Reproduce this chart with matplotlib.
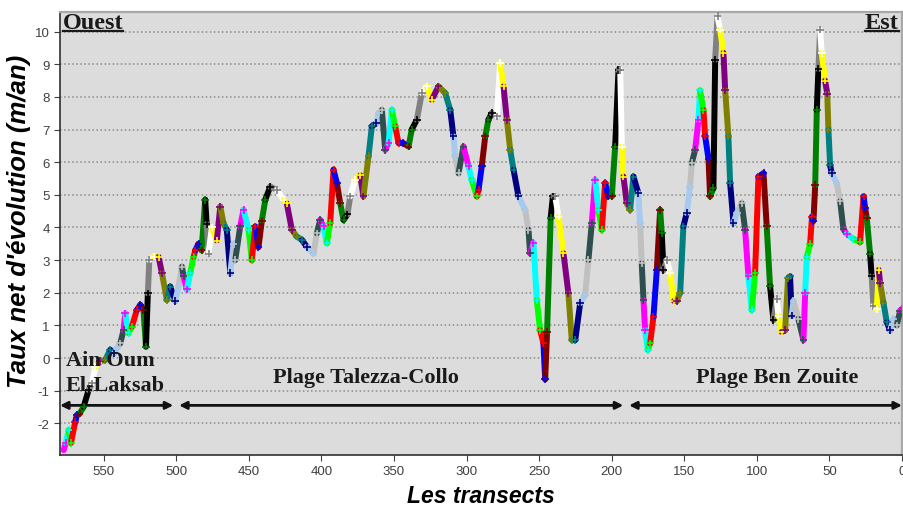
import numpy as np
import matplotlib
matplotlib.use('Agg')
import matplotlib.pyplot as plt
from matplotlib.collections import LineCollection

plt.rcParams['axes.unicode_minus'] = False

# transect number (west -> east) and net shoreline movement rate (m/an)
transects = [
    577.5, 576.0, 574.1, 572.5, 569.5, 568.4, 566.5, 563.8, 560.3, 558.0,
    555.7, 553.5, 552.3, 548.9, 545.4, 543.0, 540.8, 538.5, 536.2, 535.1,
    532.8, 530.5, 527.1, 524.7, 522.5, 520.8, 519.5, 518.5, 515.6, 512.1,
    509.8, 506.4, 504.1, 500.6, 498.3, 496.0, 494.9, 492.6, 490.3, 488.0,
    486.8, 484.6, 482.5, 480.0, 479.0, 477.7, 475.4, 472.0, 469.6, 467.4,
    465.1, 462.7, 460.5, 459.3, 455.9, 453.6, 450.1, 447.9, 445.5, 443.3,
    441.0, 438.6, 435.2, 430.6, 426.0, 423.8, 420.3, 416.9, 413.4, 410.0,
    405.4, 403.1, 400.8, 398.5, 396.2, 393.9, 391.6, 389.3, 387.0, 384.7,
    382.0, 380.1, 376.7, 373.2, 371.0, 367.5, 365.2, 362.0, 360.6, 358.3,
    356.0, 353.7, 351.4, 349.1, 346.8, 343.4, 339.9, 337.7, 334.2, 330.8,
    327.3, 323.9, 319.3, 314.7, 311.2, 309.0, 307.8, 305.5, 302.1, 298.6,
    296.4, 292.9, 291.7, 289.5, 287.1, 284.9, 282.6, 279.1, 276.8, 274.5,
    272.2, 269.9, 267.6, 264.2, 259.6, 257.3, 256.2, 253.9, 251.6, 249.3,
    247.0, 245.8, 244.5, 242.0, 240.5, 238.9, 236.6, 233.2, 229.8, 227.5,
    225.1, 221.7, 218.3, 216.0, 213.7, 211.4, 209.1, 206.8, 204.5, 202.2,
    199.9, 197.6, 195.3, 194.1, 193.0, 191.9, 189.6, 187.3, 185.0, 181.6,
    180.4, 179.3, 178.1, 177.0, 175.1, 173.5, 171.2, 168.9, 166.6, 165.5,
    164.3, 162.0, 159.7, 157.4, 155.2, 152.8, 150.6, 148.3, 146.0, 144.8,
    142.5, 140.2, 139.1, 136.8, 135.6, 133.3, 132.2, 129.9, 128.7, 127.1,
    125.3, 123.0, 121.8, 119.6, 118.4, 116.1, 113.8, 110.4, 108.1, 105.8,
    103.5, 101.2, 98.9, 95.4, 93.2, 90.9, 88.6, 86.3, 85.1, 82.9,
    80.5, 78.5, 77.1, 76.0, 74.8, 71.4, 67.9, 66.7, 65.6, 63.3,
    62.0, 61.0, 59.8, 58.7, 57.6, 56.4, 55.3, 53.0, 51.5, 50.7,
    49.5, 48.4, 45.0, 42.6, 40.4, 38.1, 33.5, 28.9, 26.5, 25.4,
    24.3, 22.0, 20.9, 19.7, 17.4, 16.0, 15.1, 12.8, 10.5, 8.2,
    5.9, 3.6, 1.3, 0.0,
]
taux = [
    -2.82, -2.60, -2.21, -2.60, -1.95, -1.75, -1.70, -1.50, -0.98, -0.78,
    -0.27, -0.15, -0.10, -0.06, 0.25, 0.14, 0.30, 0.45, 0.86, 1.37,
    0.76, 0.96, 1.47, 1.63, 1.47, 0.35, 1.98, 3.00, 3.11, 3.10,
    2.60, 1.78, 2.19, 1.75, 2.20, 2.80, 2.50, 2.10, 2.60, 3.10,
    3.30, 3.50, 3.30, 4.85, 4.10, 3.20, 4.00, 3.60, 4.64, 4.13,
    3.93, 2.60, 3.50, 3.00, 4.03, 4.54, 3.93, 3.00, 4.03, 3.40,
    4.20, 4.85, 5.25, 5.15, 4.85, 4.74, 3.93, 3.72, 3.62, 3.41,
    3.20, 3.82, 4.23, 4.03, 3.52, 4.13, 5.77, 5.36, 4.74, 4.23,
    4.40, 4.95, 5.46, 5.60, 4.95, 6.18, 7.10, 7.20, 7.50, 7.60,
    6.38, 6.58, 7.60, 7.10, 6.58, 6.58, 6.48, 7.00, 7.30, 8.12,
    8.32, 7.91, 8.32, 8.12, 7.60, 6.79, 6.18, 5.66, 6.48, 5.87,
    5.46, 4.95, 5.15, 5.87, 6.79, 7.30, 7.50, 7.40, 9.04, 8.32,
    7.30, 6.38, 5.77, 4.95, 4.54, 3.93, 3.21, 3.52, 1.78, 0.86,
    0.45, -0.65, 0.80, 4.30, 4.95, 4.95, 4.33, 3.21, 1.98, 0.55,
    0.55, 1.68, 1.93, 3.00, 4.13, 5.46, 4.54, 3.93, 5.36, 4.95,
    4.95, 6.48, 8.83, 8.83, 6.48, 5.56, 4.74, 4.54, 5.56, 5.05,
    4.13, 2.90, 1.78, 0.86, 0.25, 0.45, 1.27, 2.70, 4.54, 3.82,
    2.70, 3.00, 2.60, 1.75, 1.75, 2.00, 4.03, 4.44, 5.25, 5.97,
    6.38, 7.30, 8.20, 7.60, 6.79, 6.10, 4.95, 5.20, 9.14, 10.47,
    10.06, 9.35, 8.20, 6.79, 5.36, 4.13, 4.44, 4.74, 3.93, 2.50,
    1.47, 2.60, 5.56, 5.66, 4.03, 2.20, 1.17, 1.80, 1.30, 0.80,
    0.85, 2.45, 2.50, 1.30, 1.75, 1.20, 0.55, 2.00, 3.10, 3.50,
    4.33, 4.20, 5.30, 7.60, 8.85, 10.06, 9.35, 8.50, 8.10, 7.00,
    5.90, 5.66, 5.36, 4.80, 3.95, 3.80, 3.65, 3.55, 4.95, 4.60,
    4.30, 3.20, 2.50, 1.60, 1.50, 2.70, 2.30, 1.70, 1.10, 0.85,
    1.20, 1.00, 1.45, 1.50,
]

# coastal units along the transect axis: (label, west end, east end)
sections = ['Ain Oum\nEl-Laksab', 'Plage Talezza-Collo', 'Plage Ben Zouite']
section_start = [580, 498, 188]
section_end = [502, 192, 0]

yticks = list(range(-2, 11))
xticks = list(range(0, 551, 50))

palette = ['#ff00ff', '#00ffff', '#00ff00', '#ff0000', '#0000ff', '#800000',
           '#008000', '#000000', '#808080', '#ffffff', '#ffff00', '#800080',
           '#808000', '#008080', '#000080', '#a6caf0', '#c0c0c0', '#2f4f4f']

fig = plt.figure(figsize=(9.04, 5.10), dpi=100)
ax = fig.add_axes([0.0664, 0.1059, 0.9314, 0.8686])
ax.set_facecolor('#dcdcdc')

x = np.array(transects)
y = np.array(taux)
segs = np.stack([np.column_stack([x[:-1], y[:-1]]),
                 np.column_stack([x[1:], y[1:]])], axis=1)
cols = [palette[i % len(palette)] for i in range(len(segs))]
lc = LineCollection(segs, colors=cols, linewidths=4.3, capstyle='round', zorder=3)
ax.add_collection(lc)
ax.scatter(x[1:], y[1:], marker='+', s=30, c=cols, linewidths=1.2, zorder=4)

ax.set_xlim(580, 0)
ax.set_ylim(-2.97, 10.6)
ax.set_yticks(yticks)
ax.set_xticks(xticks)
ax.yaxis.grid(True, linestyle=':', color='#8c8c8c', linewidth=1.1)
ax.set_axisbelow(True)
ax.tick_params(labelsize=9.5, labelcolor='#404040', colors='#404040', length=4)
for lbl in ax.get_xticklabels() + ax.get_yticklabels():
    lbl.set_family('Liberation Sans')

for side in ['left', 'bottom']:
    ax.spines[side].set_color('#303030')
    ax.spines[side].set_linewidth(1.2)
for side in ['top', 'right']:
    ax.spines[side].set_color('#a8a8a8')
    ax.spines[side].set_linewidth(1.6)

ax.set_ylabel("Taux net d'évolution (m/an)", family='Liberation Sans',
              fontsize=18.5, fontweight='bold', fontstyle='italic')
ax.yaxis.set_label_coords(-0.034, 0.53)
ax.set_xlabel('Les transects', family='Liberation Sans', fontsize=16.5,
              fontweight='bold', fontstyle='italic', labelpad=5)

# section arrows and names
for name, a, b in zip(sections, section_start, section_end):
    ax.annotate('', xy=(b, -1.45), xytext=(a, -1.45),
                arrowprops=dict(arrowstyle='<|-|>', color='#111111', lw=2,
                                mutation_scale=11, shrinkA=0, shrinkB=0))
serif = dict(family='Liberation Serif', fontweight='bold', color='#1a1a1a')
ax.text(576, -0.45, sections[0], ha='left', va='center', fontsize=16,
        linespacing=1.3, zorder=5, **serif)
ax.text(369.5, -0.58, sections[1], ha='center', va='center', fontsize=16, **serif)
ax.text(85.8, -0.58, sections[2], ha='center', va='center', fontsize=16, **serif)

# Ouest / Est, underlined
t1 = ax.text(0.003, 0.999, 'Ouest', transform=ax.transAxes, ha='left', va='top',
             fontsize=17.5, **serif)
t2 = ax.text(0.996, 0.999, 'Est', transform=ax.transAxes, ha='right', va='top',
             fontsize=17.5, **serif)
fig.canvas.draw()
inv = ax.transAxes.inverted()
for t in (t1, t2):
    bb = t.get_window_extent()
    (x0, y0), (x1, _) = inv.transform([[bb.x0, bb.y0 + 2], [bb.x1, bb.y1]])
    ax.plot([x0, x1], [y0, y0], transform=ax.transAxes, color='#1a1a1a',
            lw=1.6, clip_on=False)

fig.savefig('out.png', dpi=100)
